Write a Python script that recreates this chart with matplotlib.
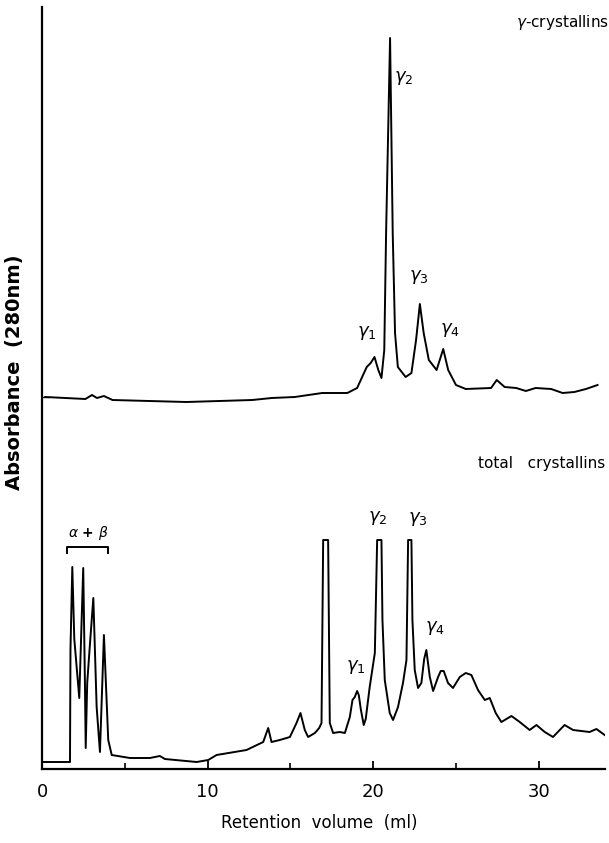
import matplotlib.pyplot as plt

# retention volume (ml) and absorbance (arbitrary units)
total_ml = [0.0, 1.69, 1.72, 1.83, 1.95, 2.25, 2.49, 2.59, 2.64, 2.73, 2.90, 3.10,
            3.30, 3.50, 3.74, 4.00, 4.21, 5.31, 6.52, 7.12, 7.42, 9.34, 10.04, 10.54,
            12.35, 13.36, 13.66, 13.86, 14.36, 14.97, 15.37, 15.61, 15.87, 16.07,
            16.48, 16.74, 16.88, 16.98, 17.28, 17.38, 17.58, 17.98, 18.29, 18.59,
            18.75, 18.89, 19.03, 19.13, 19.25, 19.43, 19.55, 19.79, 20.10, 20.24,
            20.50, 20.56, 20.70, 21.00, 21.20, 21.50, 21.80, 22.01, 22.11, 22.31,
            22.37, 22.51, 22.71, 22.91, 23.08, 23.21, 23.32, 23.42, 23.62, 23.92,
            24.08, 24.26, 24.52, 24.82, 25.23, 25.59, 25.93, 26.33, 26.74,
            27.04, 27.40, 27.74, 28.35, 28.85, 29.45, 29.86, 30.36, 30.86, 31.56,
            32.07, 33.07, 33.48, 33.98]
total_abs = [0.07, 0.07, 1.20, 2.02, 1.30, 0.71, 2.01, 0.89, 0.21, 0.86, 1.26, 1.71,
             0.62, 0.17, 1.34, 0.29, 0.14, 0.11, 0.11, 0.13, 0.10, 0.07, 0.09, 0.14,
             0.19, 0.27, 0.41, 0.27, 0.29, 0.32, 0.46, 0.56, 0.39, 0.32,
             0.36, 0.41, 0.46, 2.29, 2.29, 0.46, 0.36, 0.37, 0.36, 0.52,
             0.69, 0.72, 0.78, 0.74, 0.60, 0.44, 0.50, 0.82, 1.16, 2.29,
             2.29, 1.49, 0.89, 0.56, 0.49, 0.62, 0.86, 1.09, 2.29, 2.29,
             1.49, 0.99, 0.81, 0.86, 1.10, 1.19, 1.05, 0.92, 0.78, 0.92,
             0.98, 0.98, 0.86, 0.81, 0.92, 0.96, 0.94, 0.79, 0.69,
             0.71, 0.56, 0.47, 0.53, 0.47, 0.39, 0.44, 0.37, 0.32, 0.44,
             0.39, 0.37, 0.40, 0.34]

gamma_ml = [0.2, 2.62, 3.02, 3.32, 3.74, 4.26, 8.71, 12.70, 13.87, 15.27, 16.92,
            18.44, 19.03, 19.61, 19.85, 20.08, 20.31, 20.50, 20.67, 20.78, 21.02,
            21.18, 21.32, 21.49, 21.96, 22.31, 22.59, 22.82, 23.05, 23.36, 23.83,
            24.23, 24.53, 25.00, 25.59, 27.12, 27.46, 27.94, 28.64, 29.22, 29.81,
            30.75, 31.44, 32.15, 32.85, 33.55]
gamma_abs = [3.72, 3.70, 3.74, 3.71, 3.73, 3.69, 3.67, 3.69, 3.71, 3.72, 3.76,
             3.76, 3.81, 4.02, 4.06, 4.12, 3.99, 3.91, 4.19, 5.36, 7.31,
             5.36, 4.36, 4.02, 3.92, 3.96, 4.29, 4.65, 4.36, 4.09, 3.99,
             4.20, 3.99, 3.84, 3.80, 3.81, 3.89, 3.82, 3.81, 3.78, 3.81,
             3.80, 3.76, 3.77, 3.80, 3.84]

# peak labels: (text, ml, absorbance)
gamma_labels = [(r'$\gamma_1$', 19.61, 4.36), (r'$\gamma_2$', 21.85, 6.91),
                (r'$\gamma_3$', 22.75, 4.92), (r'$\gamma_4$', 24.62, 4.39)]
total_labels = [(r'$\gamma_1$', 18.95, 1.02), (r'$\gamma_2$', 20.28, 2.51),
                (r'$\gamma_3$', 22.69, 2.50), (r'$\gamma_4$', 23.72, 1.41)]

fig = plt.figure(figsize=(6.09, 8.43), dpi=100)
ax = fig.add_axes([42 / 609, 74 / 843, 563 / 609, 762 / 843])

ax.plot(total_ml, total_abs, color='black', lw=1.4)
ax.plot(gamma_ml, gamma_abs, color='black', lw=1.4)

ax.set_xlim(0, 34)
ax.set_ylim(0, 7.62)

for s in ['top', 'right']:
    ax.spines[s].set_visible(False)
ax.spines['left'].set_linewidth(1.6)
ax.spines['bottom'].set_linewidth(1.6)

ax.set_xticks([0, 10, 20, 30])
ax.set_xticks([5, 15, 25], minor=True)
ax.tick_params(axis='x', which='major', direction='in', length=6, width=1.3,
               labelsize=13, pad=10)
ax.tick_params(axis='x', which='minor', direction='in', length=4, width=1.2)
# baseline marker of the upper trace
ax.set_yticks([3.72])
ax.set_yticklabels([])
ax.tick_params(axis='y', direction='in', length=5, width=1.0)

for txt, x, y in gamma_labels + total_labels:
    ax.text(x, y, txt, ha='center', va='center', fontsize=13)

# alpha + beta bracket
ax.plot([1.52, 1.52, 4.0, 4.0], [2.16, 2.22, 2.22, 2.16], color='black', lw=1.4)
ax.text(2.78, 2.36, r'$\alpha$ + $\beta$', ha='center', va='center', fontsize=10,
        fontweight='bold')

ax.text(34, 3.06, 'total   crystallins', ha='right', va='center', fontsize=11)
ax.text(34.25, 7.47, r'$\gamma$-crystallins', ha='right', va='center', fontsize=11,
        clip_on=False)

fig.text(15 / 609, 1 - 372 / 843, 'Absorbance  (280nm)', rotation=90, ha='center',
         va='center', fontsize=14, fontweight='bold')
fig.text(319 / 609, 1 - 823 / 843, 'Retention  volume  (ml)', ha='center',
         va='center', fontsize=12)

fig.savefig('out.png', dpi=100)
